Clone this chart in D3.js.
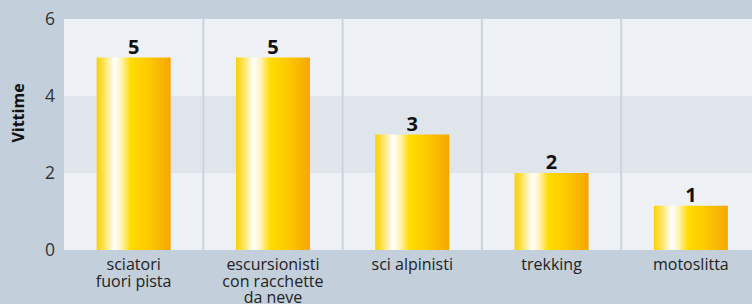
<!DOCTYPE html>
<html><head><meta charset="utf-8">
<script src="https://cdn.jsdelivr.net/npm/d3@7"></script>
<style>html,body{margin:0;padding:0;background:#c3cfdb;overflow:hidden}</style>
</head><body>
<svg id="c" width="752" height="304"></svg>
<script>
const categories = [["sciatori","fuori pista"],["escursionisti","con racchette","da neve"],["sci alpinisti"],["trekking"],["motoslitta"]];
const values = [5, 5, 3, 2, 1.15];
const valueLabels = ["5","5","3","2","1"];
const yTicks = [0, 2, 4, 6];

(function () {
const svg = d3.select("#c");
const W = 752, H = 304;
const mLeft = 64, mRight = 760.5, mTop = 19, mBottom = 250;
const font = "'Open Sans', 'Noto Sans', sans-serif";

svg.append("rect").attr("width", W).attr("height", H).attr("fill", "#c3cfdb");

const x = d3.scaleBand().domain(d3.range(categories.length)).range([mLeft, mRight]).paddingInner(0).paddingOuter(0);
const y = d3.scaleLinear().domain([0, 6]).range([mBottom, mTop]);

// bands
const bandEdges = d3.pairs(yTicks);
svg.append("g").selectAll("rect").data(bandEdges).join("rect")
  .attr("x", mLeft).attr("width", mRight - mLeft)
  .attr("y", d => y(d[1])).attr("height", d => y(d[0]) - y(d[1]))
  .attr("fill", (d, i) => i % 2 === 0 ? "#edf1f5" : "#e0e5ec");

// separators
svg.append("g").selectAll("line").data(d3.range(1, categories.length)).join("line")
  .attr("x1", d => x(d)).attr("x2", d => x(d))
  .attr("y1", mTop).attr("y2", mBottom)
  .attr("stroke", "#c9d4df").attr("stroke-width", 2);

// gradient
const defs = svg.append("defs");
const g = defs.append("linearGradient").attr("id", "bar").attr("x1", "0").attr("x2", "1").attr("y1", "0").attr("y2", "0");
[[0, "#fbcf00"], [0.1, "#ffe45a"], [0.24, "#ffffff"], [0.34, "#fff2b0"], [0.46, "#ffdc00"], [0.7, "#fdc900"], [1, "#f6a600"]]
  .forEach(([o, c]) => g.append("stop").attr("offset", o).attr("stop-color", c));

const bw = 74;
svg.append("g").selectAll("rect").data(values).join("rect")
  .attr("x", (d, i) => x(i) + x.bandwidth() / 2 - bw / 2)
  .attr("width", bw)
  .attr("y", d => y(d)).attr("height", d => mBottom - y(d))
  .attr("fill", "url(#bar)");

// value labels
svg.append("g").selectAll("text").data(values).join("text")
  .attr("x", (d, i) => x(i) + x.bandwidth() / 2)
  .attr("y", d => y(d) - 4)
  .attr("text-anchor", "middle")
  .attr("font-family", font).attr("font-weight", "bold").attr("font-size", 20)
  .attr("fill", "#111")
  .text((d, i) => valueLabels[i]);

// y axis
const yAxis = d3.axisLeft(y).tickValues(yTicks).tickFormat(d3.format("d")).tickSize(0).tickPadding(9);
const ya = svg.append("g").attr("transform", `translate(${mLeft},0)`).call(yAxis);
ya.select(".domain").remove();
ya.attr("font-family", null).attr("font-size", null);
ya.selectAll("text").attr("font-family", font).attr("font-size", 17.5).attr("fill", "#333");

// x axis labels
const xa = svg.append("g");
categories.forEach((lines, i) => {
  const t = xa.append("text").attr("text-anchor", "middle")
    .attr("font-family", font).attr("font-size", 16).attr("fill", "#222");
  lines.forEach((l, j) => t.append("tspan").attr("x", x(i) + x.bandwidth() / 2).attr("y", 270 + j * 16.5).text(l));
});

// y title
svg.append("text").attr("transform", "translate(24,113) rotate(-90)")
  .attr("text-anchor", "middle").attr("font-family", font).attr("font-weight", "bold").attr("font-size", 16)
  .attr("fill", "#111").text("Vittime");
})();
</script>
</body></html>
